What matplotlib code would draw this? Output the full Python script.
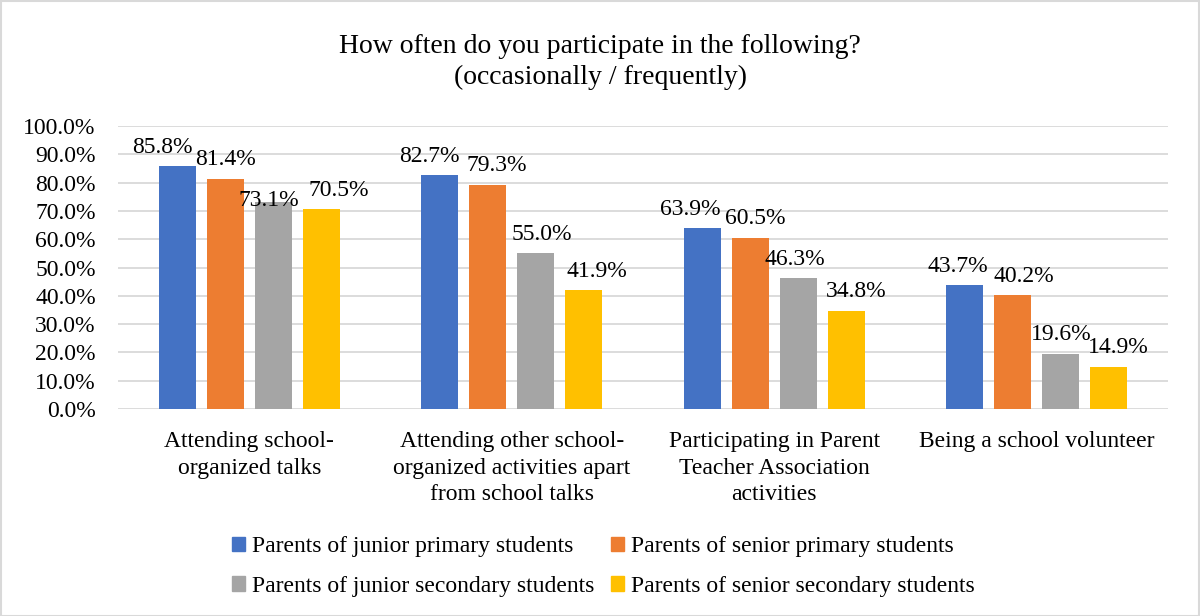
import matplotlib
matplotlib.use("Agg")
import matplotlib.pyplot as plt
from matplotlib.patches import Rectangle, Patch
import numpy as np

plt.rcParams['font.family'] = ['Liberation Serif', 'DejaVu Serif']

categories = [
    "Attending school-\norganized talks",
    "Attending other school-\norganized activities apart\nfrom school talks",
    "Participating in Parent\nTeacher Association\nactivities",
    "Being a school volunteer",
]
series_names = [
    "Parents of junior primary students",
    "Parents of senior primary students",
    "Parents of junior secondary students",
    "Parents of senior secondary students",
]
junior_primary = [85.8, 82.7, 63.9, 43.7]
senior_primary = [81.4, 79.3, 60.5, 40.2]
junior_secondary = [73.1, 55.0, 46.3, 19.6]
senior_secondary = [70.5, 41.9, 34.8, 14.9]
colors = ["#4472C4", "#ED7D31", "#A5A5A5", "#FFC000"]
y_ticks = [0, 10, 20, 30, 40, 50, 60, 70, 80, 90, 100]

series = [junior_primary, senior_primary, junior_secondary, senior_secondary]

# label nudges (pixels) to keep neighbouring value labels from colliding
label_dx = [[-15, 0, -4, 17], [-10, 9, 6, 13], [-12, 5, -3, 10], [-7, 11, 0, 9]]
label_dy = [[0, 0, -17, 0], [0, 0, 0, 0], [0, 0, 0, 0], [0, 0, 0, 0]]

W, H = 1200, 616
fig = plt.figure(figsize=(W / 100, H / 100), dpi=100)
ax = fig.add_axes([118 / W, 1 - 409 / H, 1050 / W, 283 / H])

x = np.arange(len(categories))
pitch = 0.183
width = 0.141
for i, (vals, col) in enumerate(zip(series, colors)):
    pos = x + (i - 1.5) * pitch
    ax.bar(pos, vals, width=width, color=col, zorder=3, label=series_names[i])
    for j, v in enumerate(vals):
        ax.annotate(f"{v:.1f}%", (pos[j], v), xytext=(label_dx[j][i] * 0.72, 6 + label_dy[j][i] * 0.72),
                    textcoords="offset points", ha="center", va="bottom",
                    fontsize=17, color="#000000", zorder=4)

ax.set_xlim(-0.5, len(categories) - 0.5)
ax.set_ylim(0, 100)
ax.set_yticks(y_ticks)
ax.set_yticklabels([f"{t:.1f}%" for t in y_ticks], fontsize=17)
ax.set_xticks(x)
ax.set_xticklabels(categories, fontsize=17, linespacing=1.35, va="top")
ax.tick_params(axis="both", length=0)
ax.tick_params(axis="x", pad=16)
ax.tick_params(axis="y", pad=16)
ax.grid(axis="y", color="#D9D9D9", linewidth=1.3, zorder=0)
for s in ax.spines.values():
    s.set_visible(False)

fig.text(0.5, 1 - 62 / H, "How often do you participate in the following?\n(occasionally / frequently)",
         ha="center", va="center", fontsize=20, linespacing=1.35)

handles = [Patch(color=c) for c in colors]
order = [0, 2, 1, 3]
fig.legend([handles[k] for k in order], [series_names[k] for k in order],
           loc="upper left", bbox_to_anchor=(232 / W, 1 - 536 / H), ncol=2, frameon=False,
           fontsize=17, handlelength=0.55, handleheight=0.55, handletextpad=0.3,
           columnspacing=0.7, labelspacing=0.8, borderaxespad=0, borderpad=0)

fig.patches.append(Rectangle((0.5 / W, 0.5 / H), 1 - 1.5 / W, 1 - 1.5 / H, transform=fig.transFigure,
                             fill=False, edgecolor="#D9D9D9", linewidth=1.5))

fig.savefig("out.png", dpi=100, facecolor="white")
